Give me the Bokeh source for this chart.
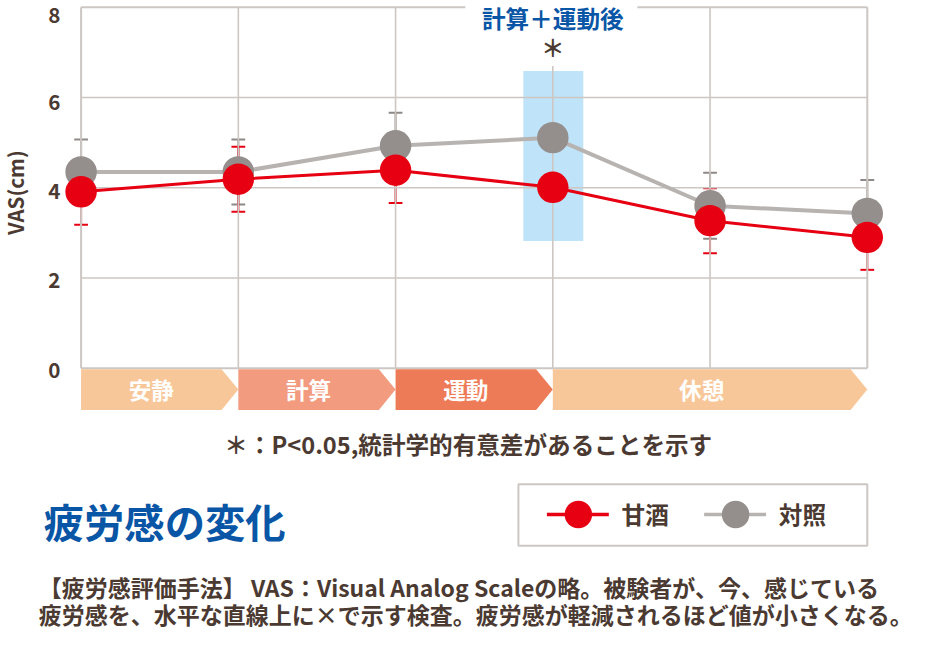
import math
from bokeh.plotting import figure
from bokeh.models import Range1d, ColumnDataSource, Whisker, TeeHead
from bokeh.core.properties import value
from bokeh.embed import file_html
from bokeh.resources import INLINE

# ---------------- data ----------------
points = [0, 1, 2, 3, 4, 5]
amazake_mean = [3.91, 4.19, 4.39, 4.01, 3.27, 2.90]
amazake_err = [0.73, 0.72, 0.73, 0.72, 0.72, 0.72]
control_mean = [4.35, 4.35, 4.93, 5.11, 3.60, 3.43]
control_err = [0.72, 0.72, 0.73, 0.73, 0.73, 0.74]

y_ticks = [0, 2, 4, 6, 8]
y_tick_labels = ["0", "2", "4", "6", "8"]

phases = ["安静", "計算", "運動", "休憩"]
phase_start = [0, 1, 2, 3]
phase_end = [1, 2, 3, 5]
phase_colors = ["#f8c799", "#f29b7f", "#ee7b57", "#f8c799"]

series_names = ["甘酒", "対照"]
highlight_point = 3
highlight_label = "計算＋運動後"
sig_mark = "＊"
footnote = "＊：P<0.05,統計学的有意差があることを示す"
title_text = "疲労感の変化"
y_label = "VAS(cm)"
desc_lines = ["【疲労感評価手法】 VAS：Visual Analog Scaleの略。被験者が、今、感じている",
              "疲労感を、水平な直線上に×で示す検査。疲労感が軽減されるほど値が小さくなる。"]

# ---------------- styling ----------------
RED = "#e60012"
GRAY_M = "#948f8c"
GRAY_L = "#b7b3b0"
GRAY_E = "#8e8986"
GRID = "#cdc7c4"
BROWN = "#4b3a32"
BLUE = "#0a56a6"
HIGHLIGHT = "#bfe3f8"
FONT = value("Noto Sans CJK JP")

W, H = 912, 630
S = W / 928.0
PX_X = 160.0   # reference px per x unit
PX_Y = 46.25   # reference px per y unit


def px(n):
    return f"{n * S:.1f}px"


p = figure(width=W, height=H, output_backend="svg", toolbar_location=None,
           x_range=Range1d(-82 / PX_X, (928 - 82) / PX_X),
           y_range=Range1d((377 - 646) / PX_Y, 377 / PX_Y),
           min_border=0, outline_line_color=None)
p.xaxis.visible = False
p.yaxis.visible = False
p.xgrid.visible = False
p.ygrid.visible = False
p.background_fill_color = "white"

dx = 1.0 / PX_X   # one reference pixel in x units
dy = 1.0 / PX_Y   # one reference pixel in y units

# highlight band
p.quad(left=[highlight_point - 30 * dx], right=[highlight_point + 31 * dx],
       bottom=[2.82], top=[6.59], fill_color=HIGHLIGHT, line_color=None)

# grid: horizontal inner lines
for t in y_ticks[1:-1]:
    p.line([points[0], points[-1]], [t, t], line_color=GRID, line_width=1.6)
# vertical inner lines
for xv in points[1:-1]:
    top = y_ticks[-1]
    if xv == highlight_point:
        top = 6.70
    p.line([xv, xv], [0, top], line_color=GRID, line_width=1.6)
# frame
p.line([points[0], points[0]], [0, y_ticks[-1]], line_color=GRID, line_width=2)
p.line([points[-1], points[-1]], [0, y_ticks[-1]], line_color=GRID, line_width=2)
p.line([points[0], points[-1]], [0, 0], line_color=GRID, line_width=2)
p.line([points[0], highlight_point - 89 * dx], [y_ticks[-1]] * 2, line_color=GRID, line_width=2)
p.line([highlight_point + 86 * dx, points[-1]], [y_ticks[-1]] * 2, line_color=GRID, line_width=2)

# control series
p.line(points, control_mean, line_color=GRAY_L, line_width=4)
src_c = ColumnDataSource(dict(x=points,
                              up=[m + e for m, e in zip(control_mean, control_err)],
                              lo=[m - e for m, e in zip(control_mean, control_err)]))
wc = Whisker(base="x", upper="up", lower="lo", source=src_c, dimension="height",
             line_color=GRAY_E, line_width=2,
             upper_head=TeeHead(size=14 * S, line_color=GRAY_E, line_width=2),
             lower_head=TeeHead(size=14 * S, line_color=GRAY_E, line_width=2))
p.add_layout(wc)
p.scatter(points, control_mean, size=32 * S, fill_color=GRAY_M, line_color=None)

# amazake series
p.line(points, amazake_mean, line_color=RED, line_width=3)
src_a = ColumnDataSource(dict(x=points,
                              up=[m + e for m, e in zip(amazake_mean, amazake_err)],
                              lo=[m - e for m, e in zip(amazake_mean, amazake_err)]))
wa = Whisker(base="x", upper="up", lower="lo", source=src_a, dimension="height",
             line_color=RED, line_width=2,
             upper_head=TeeHead(size=14 * S, line_color=RED, line_width=2),
             lower_head=TeeHead(size=14 * S, line_color=RED, line_width=2))
p.add_layout(wa)
p.scatter(points, amazake_mean, size=32 * S, fill_color=RED, line_color=None)

# phase chevrons
d = 17 * dx
ctop = -1 * dy
cbot = -43 * dy
cmid = (ctop + cbot) / 2
xs, ys, lx = [], [], []
for a, b in zip(phase_start, phase_end):
    xs.append([a, b - d, b, b - d, a])
    ys.append([ctop, ctop, cmid, cbot, cbot])
    lx.append((a + b - d) / 2)
p.patches(xs, ys, fill_color=phase_colors, line_color=None)
p.text(lx, [cmid] * len(lx), text=phases, text_font=FONT, text_font_style="bold",
       text_font_size=px(23), text_color="white", text_align="center",
       text_baseline="middle")

# y tick labels and y label
tick_offsets = [1.5, 2, 3.5, 4.5, 7.5]
p.text([-21 * dx] * len(y_ticks), [t - o * dy for t, o in zip(y_ticks, tick_offsets)],
       text=y_tick_labels, text_font=FONT, text_font_style="bold",
       text_font_size=px(21), text_color=BROWN, text_align="right",
       text_baseline="middle")
p.text([-67 * dx], [(377 - 197) * dy], text=[y_label], angle=math.pi / 2,
       text_font=FONT, text_font_style="bold", text_font_size=px(21),
       text_color=BROWN, text_align="center", text_baseline="middle")

# highlight label and significance mark
p.text([highlight_point], [(377 - 18) * dy], text=[highlight_label], text_font=FONT,
       text_font_style="bold", text_font_size=px(24), text_color=BLUE,
       text_align="center", text_baseline="middle")
p.text([highlight_point], [(377 - 48) * dy], text=[sig_mark], text_font=FONT,
       text_font_style="bold", text_font_size=px(24), text_color=BROWN,
       text_align="center", text_baseline="middle")

# footnote
p.text([(476 - 82) * dx], [(377 - 455) * dy], text=[footnote], text_font=FONT,
       text_font_style="bold", text_font_size=px(24), text_color=BROWN,
       text_align="center", text_baseline="middle")

# title
p.text([(44 - 82) * dx], [(377 - 533) * dy], text=[title_text], text_font=FONT,
       text_font_style="bold", text_font_size=px(41), text_color=BLUE,
       text_align="left", text_baseline="middle")

# legend box
p.quad(left=[(527 - 82) * dx], right=[(882 - 82) * dx], top=[(377 - 496) * dy],
       bottom=[(377 - 559) * dy], fill_color="white", line_color=GRID, line_width=2)
ly = (377 - 527) * dy
leg_colors_line = [RED, GRAY_L]
leg_colors_mark = [RED, GRAY_M]
for i, name in enumerate(series_names):
    base = 556 + 160 * i
    p.line([(base - 82) * dx, (base + 63 - 82) * dx], [ly, ly],
           line_color=leg_colors_line[i], line_width=3.5)
    p.scatter([(base + 32 - 82) * dx], [ly], size=28 * S,
              fill_color=leg_colors_mark[i], line_color=None)
    p.text([(base + 76 - 82) * dx], [ly], text=[name], text_font=FONT,
           text_font_style="bold", text_font_size=px(24), text_color=BROWN,
           text_align="left", text_baseline="middle")

# description
p.text([(39 - 82) * dx] * 2, [(377 - 601) * dy, (377 - 629) * dy], text=desc_lines,
       text_font=FONT, text_font_style="bold", text_font_size=px(23.4),
       text_color=BROWN, text_align="left", text_baseline="middle")

open("out.html", "w").write(file_html(p, INLINE))
